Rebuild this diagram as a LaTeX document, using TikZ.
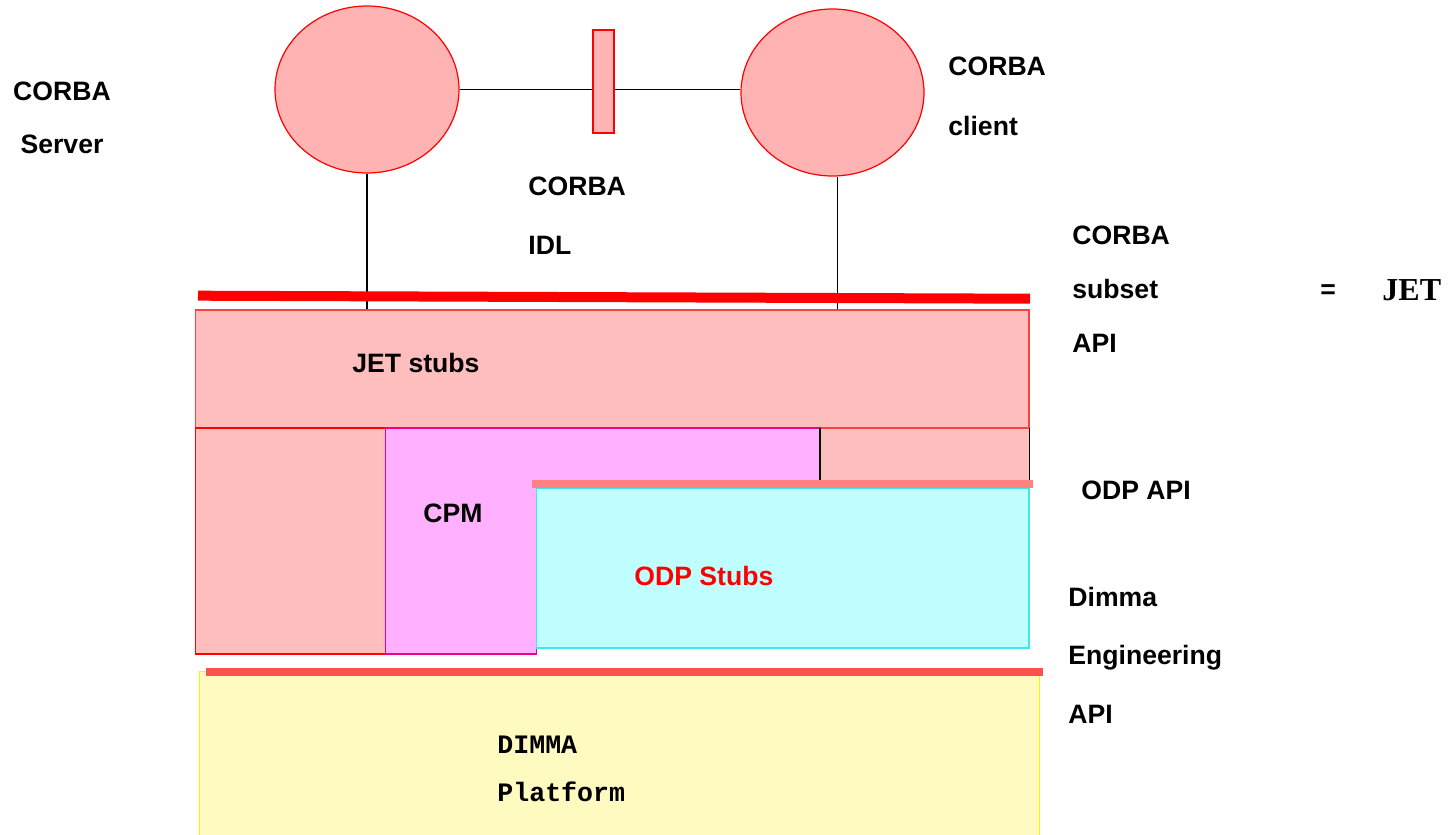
\documentclass[tikz,border=0pt]{standalone}
\usepackage{fontspec}
\setmainfont{Liberation Sans}
\newfontfamily\codefont{Liberation Mono}
\newfontfamily\titlefont{Liberation Serif}
\usetikzlibrary{shapes.geometric,positioning,fit,calc}
\definecolor{objfill}{RGB}{255,179,179}
\definecolor{jetfill}{RGB}{255,190,190}
\definecolor{jetedge}{RGB}{255,64,64}
\definecolor{cpmfill}{RGB}{255,176,255}
\definecolor{odpfill}{RGB}{192,255,255}
\definecolor{odpedge}{RGB}{64,230,240}
\definecolor{platfill}{RGB}{255,250,192}
\definecolor{odpbar}{RGB}{255,128,128}
\definecolor{engbar}{RGB}{255,80,80}
\tikzset{
  % CORBA objects and the IDL interface
  objnode/.style={draw=red, fill=objfill, ellipse, inner sep=0pt, line width=0.6pt},
  idlbox/.style={draw=red, fill=objfill, rectangle, inner sep=0pt, line width=0.6pt},
  wire/.style={line width=0.6pt, black},
  % Layers: filled rectangles fitted to their corners
  layer/.style={rectangle, inner sep=0pt, line width=0.6pt},
  jetlayer/.style={layer, draw=jetedge, fill=jetfill},
  cpmlayer/.style={draw=magenta, fill=cpmfill, line width=0.6pt},
  odplayer/.style={layer, draw=odpedge, fill=odpfill},
  platlayer/.style={layer, draw=yellow, fill=platfill},
  % API boundaries: thick bars
  apibar/.style={line width=5pt, red},
  odpapi/.style={line width=4pt, odpbar},
  engapi/.style={line width=4pt, engbar},
  % Labels (multi-line labels sit on the baseline of their last line)
  lbl/.style={font=\fontsize{13.3}{27}\selectfont\bfseries, inner sep=0pt, anchor=base west, align=left},
  codelbl/.style={lbl, font=\fontsize{13.3}{24}\selectfont\codefont\bfseries}
}
\begin{document}
\begin{tikzpicture}[x=0.5pt, y=-0.5pt]
\useasboundingbox (0,0) rectangle (1451,835);

% ============== CORBA objects and IDL ==============
\node[objnode, minimum width=92pt, minimum height=83.5pt] (server) at (367,89.5) {};
\node[objnode, minimum width=91.5pt, minimum height=83.5pt] (client) at (832.5,92.5) {};
\node[idlbox, fit={(593,30) (614,133)}] (idl) {};

\draw[wire] (server.east) -- (idl.west |- server.east);
\draw[wire] (idl.east |- server.east) -- (client.west |- server.east);

% ============== Layers ==============
\node[platlayer, fit={(199.6,671.7) (1039.7,845)}] (platform) {};
\node[jetlayer, fit={(195.6,310) (1029,428)}] (jet) {};
\node[layer, draw=red, fill=jetfill, fit={(195.6,428) (385.6,654)}] (leftstub) {};
\draw[cpmlayer] (385.6,428) -- (820.6,428) -- (820.6,486) -| (536.5,654) -- (385.6,654) -- cycle;
\node[layer, fill=jetfill, fit={(820.6,428.5) (1029,485)}] (rightstub) {};
\draw[wire] (rightstub.north west) -- (rightstub.south west);
\draw[wire] (rightstub.north east) -- (rightstub.south east);
\node[odplayer, fit={(536.5,488) (1029,648)}] (odp) {};

% objects hook into the JET layer
\draw[wire] (server.south) -- (server.south |- jet.north);
\draw[wire] ($(client.south)+(5,0)$) -- ($(client.south |- jet.north)+(5,0)$);

% ============== API bars ==============
\coordinate (corbaL) at (198,295.7);
\coordinate (corbaR) at (1030,298.7);
\draw[apibar] (corbaL) -- (corbaR);
\draw[odpapi] (532,484.3) -- (1033,484.3);
\draw[engapi] (206,671.5) -- (1043,671.5);

% ============== Labels ==============
\node[lbl, anchor=base, align=center, font=\fontsize{13.3}{26.5}\selectfont\bfseries] (srvlbl) at (62,153) {CORBA\\Server};
\node[lbl, font=\fontsize{13.3}{30}\selectfont\bfseries] (clilbl) at (948,135) {CORBA\\client};
\node[lbl, font=\fontsize{13.3}{29.5}\selectfont\bfseries] (idllbl) at (528,254) {CORBA\\IDL};
\node[lbl] (subsetlbl) at (1072,352) {CORBA\\subset\\API};
\node[lbl] (eqlbl) at (1320,298) {=};
\node[lbl, font=\fontsize{16}{20}\selectfont\titlefont\bfseries] (jetlbl) at (1382,300.7) {JET};
\node[lbl] (jetstubs) at (352,372) {JET stubs};
\node[lbl] (odpapilbl) at (1081,499) {ODP API};
\node[lbl] (cpmlbl) at (423,522) {CPM};
\node[lbl, text=red] (odpstubs) at (634,585.7) {ODP Stubs};
\node[lbl, font=\fontsize{13.3}{29.25}\selectfont\bfseries] (englbl) at (1068,723) {Dimma\\Engineering\\API};
\node[codelbl] (platlbl) at (497,801) {DIMMA\\Platform};

\end{tikzpicture}
\end{document}
